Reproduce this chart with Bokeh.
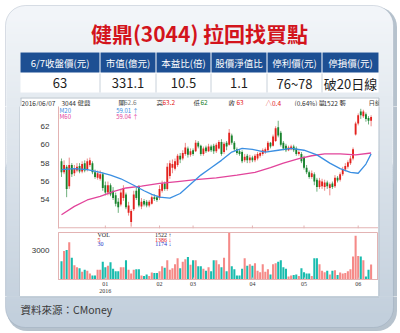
from bokeh.plotting import figure
from bokeh.models import Range1d, BoxAnnotation, FixedTicker, ColumnDataSource, Span
from bokeh.layouts import column, row
from bokeh.embed import file_html
from bokeh.resources import INLINE
from bokeh.core.properties import value

# ---------------- data ----------------
title_text = "健鼎(3044) 拉回找買點"
table_headers = ["6/7收盤價(元)", "市值(億元)", "本益比(倍)", "股價淨值比", "停利價(元)", "停損價(元)"]
table_values = ["63", "331.1", "10.5", "1.1", "76~78", "破20日線"]
source_text = "資料來源：CMoney"

quote_texts = ["2016/06/07", "3044 健鼎", "開", "62.6", "高", "63.2", "低", "62", "收", "63",
               "△0.4", "(0.64%)", "量", "1522↑", "張", "日線"]

price_open = [58.2, 57.0, 57.6, 55.5, 57.8, 56.9, 57.2, 57.7, 57.1, 58.0,
              57.3, 57.8, 58.0, 57.0, 56.4, 56.3, 56.8, 55.6, 54.8, 55.6,
              55.0, 54.5, 53.8, 53.5, 54.2, 54.6, 52.6, 51.6, 53.0, 55.0,
              55.4, 53.3, 53.9, 53.8, 53.4, 53.6, 54.3, 54.3, 54.2, 55.0,
              55.8, 55.2, 56.6, 57.5, 57.4, 57.8, 58.8, 58.5, 59.0, 59.6,
              58.9, 59.4, 59.3, 60.2, 59.9, 59.0, 59.7, 59.3, 59.8, 59.9,
              59.3, 59.6, 60.3, 59.2, 60.2, 60.0, 61.0, 60.2, 59.5, 59.3,
              59.2, 58.3, 58.8, 58.3, 58.6, 58.3, 58.5, 58.8, 59.0, 59.2,
              59.4, 60.2, 59.9, 60.4, 61.9, 61.3, 60.2, 59.9, 59.4, 59.5,
              59.8, 59.6, 59.0, 59.0, 58.6, 57.5, 57.0, 56.5, 56.8, 56.2,
              55.4, 55.5, 55.4, 55.9, 55.3, 55.8, 55.5, 56.4, 56.2, 56.8,
              57.3, 57.6, 58.0, 58.5, 61.1, 62.3, 63.6, 63.1, 63.3, 62.9,
              62.6]
price_high = [58.5, 58.3, 57.8, 58.6, 58.0, 57.8, 58.0, 58.0, 58.2, 58.3,
              58.5, 58.6, 58.2, 57.3, 57.2, 57.2, 57.0, 56.0, 56.0, 55.8,
              55.4, 54.8, 54.2, 55.2, 55.6, 54.8, 53.8, 53.0, 55.0, 55.4,
              55.6, 54.2, 54.1, 54.0, 54.0, 54.5, 54.6, 54.5, 55.6, 56.1,
              56.0, 58.0, 58.3, 58.4, 58.5, 59.0, 59.1, 59.4, 60.2, 59.8,
              59.6, 59.6, 60.5, 60.4, 60.0, 59.8, 59.9, 60.1, 60.0, 60.1,
              60.2, 60.5, 60.6, 60.3, 60.4, 61.7, 61.2, 60.4, 59.7, 59.5,
              59.4, 59.0, 59.0, 58.9, 58.8, 59.0, 59.2, 59.3, 59.6, 59.7,
              60.4, 60.3, 61.1, 62.0, 62.6, 61.5, 60.4, 60.1, 59.9, 60.0,
              60.0, 59.8, 59.4, 59.2, 58.8, 57.8, 57.2, 57.2, 57.0, 56.4,
              56.4, 56.3, 56.2, 56.1, 55.9, 56.0, 56.7, 56.6, 57.0, 57.6,
              58.0, 58.3, 58.8, 59.7, 62.5, 63.4, 63.9, 63.8, 63.5, 63.1,
              63.2]
price_low = [56.5, 56.8, 54.3, 55.2, 56.5, 56.6, 57.0, 56.9, 56.9, 57.0,
             57.1, 57.6, 56.8, 56.3, 56.2, 56.1, 55.0, 54.5, 54.5, 54.4,
             54.0, 53.3, 52.6, 53.3, 53.9, 53.0, 52.3, 51.1, 52.8, 54.0,
             53.2, 53.0, 53.3, 53.2, 53.2, 53.5, 53.9, 53.8, 54.0, 54.8,
             55.0, 55.0, 56.3, 56.9, 57.2, 57.6, 58.0, 58.3, 58.8, 58.6,
             58.7, 58.8, 59.2, 59.6, 58.8, 58.8, 59.1, 59.2, 59.2, 59.0,
             59.1, 59.5, 58.8, 59.0, 59.4, 59.9, 60.0, 59.3, 58.9, 58.8,
             58.0, 58.1, 58.0, 58.0, 58.1, 58.1, 58.3, 58.6, 58.8, 59.0,
             59.3, 59.6, 59.8, 60.3, 60.8, 59.8, 59.4, 59.2, 59.3, 59.4,
             59.2, 58.8, 58.8, 58.0, 57.3, 56.8, 56.3, 56.3, 55.6, 54.9,
             55.2, 55.2, 55.0, 55.2, 54.5, 55.2, 55.3, 55.9, 56.0, 56.6,
             57.1, 57.4, 57.8, 58.3, 61.0, 62.1, 62.8, 62.9, 62.5, 62.2,
             62.0]
price_close = [57.0, 57.8, 55.2, 57.8, 56.8, 57.4, 57.6, 57.1, 57.9, 57.2,
               58.2, 58.3, 57.0, 56.5, 56.9, 56.8, 55.3, 54.8, 55.6, 54.6,
               54.2, 53.6, 53.2, 54.8, 55.3, 53.2, 53.4, 52.8, 54.6, 54.2,
               53.4, 53.8, 53.5, 53.4, 53.8, 54.3, 54.1, 54.0, 55.2, 55.8,
               55.2, 57.6, 58.0, 57.9, 58.2, 58.8, 58.4, 59.1, 59.7, 58.9,
               59.3, 59.0, 60.2, 59.8, 59.0, 59.6, 59.3, 59.8, 59.4, 59.3,
               60.0, 60.3, 59.0, 60.1, 59.8, 61.3, 60.2, 59.5, 59.1, 59.0,
               58.2, 58.7, 58.3, 58.6, 58.3, 58.8, 59.0, 59.1, 59.4, 59.5,
               60.2, 59.8, 60.9, 61.8, 61.0, 60.0, 59.6, 59.4, 59.7, 59.8,
               59.4, 59.0, 59.2, 58.2, 57.5, 57.0, 56.5, 56.9, 56.0, 55.4,
               56.1, 56.0, 55.9, 55.5, 55.7, 55.4, 56.4, 56.1, 56.8, 57.3,
               57.7, 58.1, 58.5, 59.5, 62.3, 63.2, 63.2, 63.6, 62.8, 62.6,
               63.0]
volume = [1850, 2900, 3000, 3800, 2200, 1450, 1250, 1150, 800, 1000,
          900, 600, 400, 400, 1000, 1000, 1800, 1250, 1400, 1750,
          1100, 850, 850, 1250, 1250, 1950, 1000, 600, 1000, 1050,
          1050, 400, 350, 500, 350, 700, 650, 650, 850, 1350,
          1200, 1950, 1000, 1150, 1550, 2150, 1150, 1800, 2050, 2300,
          1500, 1950, 1950, 1350, 1350, 1100, 900, 1250, 850, 1950,
          1950, 1550, 1250, 2200, 850, 4750, 1350, 1050, 400, 400,
          1100, 2150, 1400, 1550, 1400, 1650, 900, 750, 1550, 800,
          1050, 500, 1550, 1650, 1800, 1950, 1250, 1100, 300, 400,
          450, 500, 350, 1150, 750, 600, 600, 350, 2150, 2150,
          1550, 900, 750, 900, 500, 900, 950, 450, 700, 600,
          650, 850, 1050, 2350, 4450, 2400, 2350, 1950, 300, 1000,
          1522]

m20_index = [0, 5, 10, 15, 19, 23, 28, 32, 35, 38, 42, 46, 50, 54, 58, 62, 66, 70,
             74, 79, 84, 89, 94, 99, 104, 108, 112, 115, 118, 120]
m20_value = [57.3, 57.4, 57.3, 57.0, 56.7, 56.3, 55.6, 55.0, 54.6, 54.3, 54.2, 54.7,
             55.7, 56.7, 57.5, 58.3, 59.2, 59.6, 59.5, 59.2, 59.4, 59.6, 59.4, 58.9,
             58.0, 57.4, 57.0, 56.9, 57.9, 59.0]
m60_index = [0, 5, 10, 15, 20, 25, 31, 38, 45, 52, 60, 68, 75, 81, 86, 92, 97, 102,
             108, 114, 120]
m60_value = [52.4, 53.3, 54.0, 54.4, 54.9, 55.3, 55.5, 55.8, 56.0, 56.2, 56.4, 56.7,
             57.0, 57.5, 58.0, 58.5, 58.8, 59.0, 59.0, 58.9, 59.1]

ma_names = ["M20", "M60"]
ma_last = ["59.01 ↑", "59.04 ↑"]
vol_names = ["VOL", "5", "30"]
vol_last = ["1522 ↑", "1386 ↓", "1174 ↓"]

month_index = [17, 38, 51, 74, 94, 115]
month_labels = ["01\n2016", "02", "03", "04", "05", "06"]
price_ticks = [54, 56, 58, 60, 62]
volume_ticks = [3000]

# ---------------- style / layout ----------------
W, H = 400, 333
TOP_H, PRICE_H, VOL_H, BOT_H = 106, 125, 65, 37
PINK = "#e3b3b3"
PANEL_LINE = "#b7c1cb"
RED = "#e3211d"
GREEN = "#17832c"
VRED = "#f58a88"
VTEAL = "#19bcae"
BLUE = "#3b8fe2"
MAG = "#e2449b"
CJK = value("Noto Sans CJK TC")

C0 = (243, 246, 249)
C1 = (193, 206, 219)


def card_col(yp):
    t = min(max((yp - 5) / 322.0, 0.0), 1.0)
    return "#%02x%02x%02x" % tuple(int(round(a + (b - a) * t)) for a, b in zip(C0, C1))


band_y = list(range(20, 312, 2))
band_data = dict(left=[6.0] * len(band_y), right=[392.0] * len(band_y),
                 top=[H - y for y in band_y], bottom=[H - y - 2.6 for y in band_y],
                 color=[card_col(y + 1) for y in band_y])


def deco_fig(x0, y0, w, h):
    p = figure(width=w, height=h, x_range=Range1d(x0, x0 + w), y_range=Range1d(H - y0 - h, H - y0),
               output_backend="svg", toolbar_location=None, x_axis_location=None,
               y_axis_location=None, min_border=0, outline_line_color=None,
               background_fill_color="white", border_fill_color="white")
    p.grid.visible = False
    return p


def draw_card(p):
    p.add_layout(BoxAnnotation(left=6.5, right=396.5, top=H - 6.5, bottom=H - 330.5, border_radius=20,
                               fill_color="#aebbc8", fill_alpha=0.9, line_color=None, level="underlay"))
    p.add_layout(BoxAnnotation(left=5, right=393, top=H - 5, bottom=H - 200, border_radius=20,
                               fill_color=card_col(10), fill_alpha=1, line_color=None, level="underlay"))
    p.add_layout(BoxAnnotation(left=5, right=393, top=H - 150, bottom=H - 327, border_radius=20,
                               fill_color=card_col(318), fill_alpha=1, line_color=None, level="underlay"))
    p.quad(left="left", right="right", top="top", bottom="bottom", fill_color="color",
           line_color=None, source=ColumnDataSource(band_data))
    p.add_layout(BoxAnnotation(left=5, right=393, top=H - 5, bottom=H - 327, border_radius=20,
                               fill_alpha=0, line_color="#8799ab", line_width=1))


# ---------------- top: title + table ----------------
top = deco_fig(0, 0, W, TOP_H)
draw_card(top)
top.text(x=[199], y=[H - 32], text=[title_text], text_font=CJK, text_font_style="bold",
         text_font_size="21px", text_color="#d3141c", text_align="center", text_baseline="middle")

col_l = [20, 100, 156, 211, 267, 322]
col_r = [99, 155, 210, 266, 321, 378]
col_c = [(a + b) / 2 for a, b in zip(col_l, col_r)]
top.quad(left=[20], right=[378], top=[H - 52], bottom=[H - 92], fill_color="white", line_color=None)
top.quad(left=col_l, right=col_r, top=H - 52, bottom=H - 72, fill_color="#1d4f93", line_color=None)
seps = [99.5, 155.5, 210.5, 266.5, 321.5]
top.segment(x0=seps, y0=H - 73, x1=seps, y1=H - 92, line_color="#c8d1da", line_width=1)
top.text(x=col_c, y=[H - 62] * 6, text=table_headers, text_font=CJK, text_font_size="9.5px",
         text_color="white", text_align="center", text_baseline="middle")
top.text(x=col_c, y=[H - 82.5] * 6, text=table_values, text_font=CJK, text_font_size="13px",
         text_color="#1e1e1e", text_align="center", text_baseline="middle")

# panel top part with quote line
top.quad(left=[20], right=[378], top=[H - 97], bottom=[H - 107], fill_color="white", line_color=None)
qx = [21, 61, 118, 123.5, 156, 162, 193, 200, 228, 236, 265, 294, 318, 323, 339, 368]
qc = ["#333333", "#333333", "#333333", "#808080", "#333333", RED, "#333333", GREEN,
      "#333333", RED, RED, "#333333", "#333333", "#333333", "#333333", "#333333"]
top.text(x=qx, y=[H - 102] * len(qx), text=quote_texts, text_font=CJK, text_font_size="6.5px",
         text_color=qc, text_align="left", text_baseline="middle")
top.quad(left=[378.5], right=[392], top=[H - 96], bottom=[H - 107], fill_color=card_col(101),
         line_color=None)
top.segment(x0=[20, 20.5, 378.5], y0=[H - 97.5, H - 97.5, H - 97.5],
            x1=[378.5, 20.5, 378.5], y1=[H - 97.5, H - 107, H - 107], line_color=PANEL_LINE, line_width=1)

# ---------------- price chart ----------------
XR = Range1d(-1.16, 122.87)
P_Y0, P_Y1 = 50.9, 64.15
pp = figure(width=358, height=PRICE_H, x_range=XR, y_range=Range1d(P_Y0, P_Y1),
            output_backend="svg", toolbar_location=None, x_axis_location=None, y_axis_location="left",
            min_border_left=38, min_border_right=0, min_border_top=0, min_border_bottom=3,
            outline_line_color=None, background_fill_color="white", border_fill_color="white")
pp.grid.visible = False
ya = pp.yaxis[0]
ya.ticker = FixedTicker(ticks=price_ticks)
ya.major_label_text_font_size = "8px"
ya.major_label_text_font = "Liberation Sans"
ya.major_label_text_color = "#333333"
ya.axis_line_color = PINK
ya.major_tick_line_color = None
ya.minor_tick_line_color = None
ya.major_label_standoff = 3

P_PX = (P_Y1 - P_Y0) / 122.0  # price units per pixel
pp.add_layout(Span(location=P_Y0 + 0.6 * P_PX, dimension="width", line_color=PINK, line_width=1.2))
pp.segment(x0=month_index, y0=[P_Y0] * len(month_index), x1=month_index,
           y1=[P_Y0 + 3 * P_PX] * len(month_index), line_color=PINK, line_width=1)

idx = list(range(len(price_close)))
up = [c >= o for o, c in zip(price_open, price_close)]
body_top = [max(o, c) for o, c in zip(price_open, price_close)]
body_bot = [min(o, c) - (0.08 if abs(o - c) < 0.08 else 0) for o, c in zip(price_open, price_close)]
csrc = ColumnDataSource(dict(x=idx, high=price_high, low=price_low, top=body_top, bottom=body_bot,
                             color=[RED if u else GREEN for u in up],
                             wick=["#ec8a88" if u else "#6fb07d" for u in up]))
pp.segment(x0="x", y0="low", x1="x", y1="high", line_color="wick", line_width=1, source=csrc)
pp.vbar(x="x", width=0.72, top="top", bottom="bottom", fill_color="color", line_color=None, source=csrc)
pp.line(m60_index, m60_value, line_color=MAG, line_width=1.3)
pp.line(m20_index, m20_value, line_color=BLUE, line_width=1.3)


def px_x(xp):
    return XR.start + (xp - 58) / 320.0 * (XR.end - XR.start)


def px_py(yp):
    return P_Y1 - (yp - 106) * P_PX


pp.text(x=[px_x(59)] * 2, y=[px_py(110), px_py(116)], text=ma_names, text_font=CJK,
        text_font_size="6px", text_color=[BLUE, MAG], text_align="left", text_baseline="middle")
pp.text(x=[px_x(138)] * 2, y=[px_py(110), px_py(116)], text=ma_last, text_font=CJK,
        text_font_size="6px", text_color=[BLUE, MAG], text_align="right", text_baseline="middle")

# ---------------- volume chart ----------------
V_Y1 = 4780
pv = figure(width=358, height=VOL_H, x_range=XR, y_range=Range1d(0, V_Y1),
            output_backend="svg", toolbar_location=None, x_axis_location="below", y_axis_location="left",
            min_border_left=38, min_border_right=0, min_border_top=1, min_border_bottom=13,
            outline_line_color=PINK, background_fill_color="white", border_fill_color="white")
pv.grid.visible = False
vy = pv.yaxis[0]
vy.ticker = FixedTicker(ticks=volume_ticks)
vy.major_label_text_font_size = "8px"
vy.major_label_text_font = "Liberation Sans"
vy.major_label_text_color = "#333333"
vy.axis_line_color = PINK
vy.major_tick_line_color = None
vy.minor_tick_line_color = None
vy.major_label_standoff = 3
vx = pv.xaxis[0]
vx.ticker = FixedTicker(ticks=month_index)
vx.major_label_overrides = {m: lab for m, lab in zip(month_index, month_labels)}
vx.major_label_text_font_size = "6px"
vx.major_label_text_font = "Liberation Serif"
vx.major_label_text_color = "#333333"
vx.major_label_standoff = 1
vx.major_tick_in = 2
vx.major_tick_out = 0
vx.major_tick_line_color = PINK
vx.minor_tick_line_color = None
vx.axis_line_color = PINK

pv.vbar(x=idx, width=0.8, top=volume, bottom=0, fill_color=[VRED if u else VTEAL for u in up],
        line_color=None)


def px_vy(yp):
    return (283 - yp) / 51.0 * V_Y1


pv.text(x=[px_x(97)] * 3, y=[px_vy(235), px_vy(240), px_vy(245)], text=vol_names,
        text_font=value("Liberation Serif"), text_font_size="6px",
        text_color=["#222222", RED, "#2234c8"], text_align="left", text_baseline="middle")
pv.text(x=[px_x(171)] * 3, y=[px_vy(235), px_vy(240), px_vy(245)], text=vol_last,
        text_font=value("Liberation Serif"), text_font_size="6px",
        text_color=["#222222", RED, "#2234c8"], text_align="right", text_baseline="middle")

# ---------------- side strips ----------------
strip_l = deco_fig(0, TOP_H, 20, PRICE_H + VOL_H)
draw_card(strip_l)
strip_l.segment(x0=[19.5], y0=[H - 100], x1=[19.5], y1=[H - 300], line_color=PANEL_LINE, line_width=1)
strip_r = deco_fig(378, TOP_H, 22, PRICE_H + VOL_H)
draw_card(strip_r)
strip_r.segment(x0=[378.5], y0=[H - 100], x1=[378.5], y1=[H - 300], line_color=PANEL_LINE, line_width=1)

# ---------------- bottom ----------------
bot = deco_fig(0, TOP_H + PRICE_H + VOL_H, W, BOT_H)
draw_card(bot)
bot.segment(x0=[19.5], y0=[H - 296.5], x1=[378.5], y1=[H - 296.5], line_color=PANEL_LINE, line_width=1)
bot.text(x=[20], y=[H - 309], text=[source_text], text_font=CJK, text_font_size="10.5px",
         text_color="#3a3a3a", text_align="left", text_baseline="middle")

layout = column(top, row(strip_l, column(pp, pv, spacing=0), strip_r, spacing=0), bot, spacing=0)

open("out.html", "w").write(file_html(layout, INLINE))
